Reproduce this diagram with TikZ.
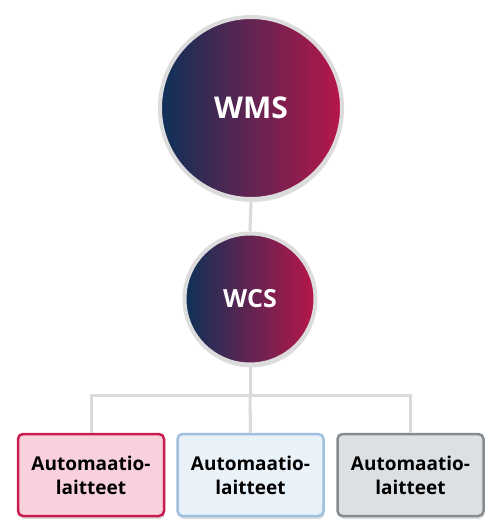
\documentclass[tikz,border=0pt]{standalone}
\usepackage{fontspec}
\setmainfont{Open Sans}
\usetikzlibrary{shadows}
\definecolor{navy}{HTML}{0D3158}
\definecolor{crimson}{HTML}{B8164A}
\definecolor{ringgray}{HTML}{DCDCDC}
\definecolor{linkgray}{HTML}{DADADA}
\definecolor{pinkfill}{HTML}{F9D1DC}
\definecolor{pinkline}{HTML}{C81D4E}
\definecolor{bluefill}{HTML}{E9F1F9}
\definecolor{blueline}{HTML}{9EBFDE}
\definecolor{grayfill}{HTML}{DDE0E3}
\definecolor{grayline}{HTML}{858B90}
\begin{document}
\begin{tikzpicture}[x=1pt,y=-1pt,
    sys/.style={circle,draw=ringgray,line width=4pt,left color=navy,right color=crimson,
      text=white,font=\bfseries,
      drop shadow={opacity=0.25,shadow xshift=1pt,shadow yshift=-3pt}},
    device/.style={rounded corners=5pt,line width=2.5pt,minimum width=146pt,minimum height=82pt,
      align=center,font=\bfseries\fontsize{19}{24}\selectfont,
      drop shadow={opacity=0.25,shadow xshift=1pt,shadow yshift=-3pt}},
    link/.style={draw=linkgray,line width=3pt}]
  \useasboundingbox (0,0) rectangle (500,530);
  \coordinate (bus) at (250,395);
  \node[sys,minimum size=182pt,font=\bfseries\fontsize{30}{36}\selectfont] (wms) at (251,108) {WMS};
  \node[sys,minimum size=131pt,font=\bfseries\fontsize{25}{30}\selectfont] (wcs) at (250,299) {WCS};
  \node[device,fill=pinkfill,draw=pinkline] (dev1) at (91,475) {Automaatio-\\laitteet};
  \node[device,fill=bluefill,draw=blueline] (dev2) at (250.5,475) {Automaatio-\\laitteet};
  \node[device,fill=grayfill,draw=grayline] (dev3) at (410.5,475) {Automaatio-\\laitteet};
  % connectors
  \draw[link] (wms.south) -- (wcs.north);
  \draw[link] (wcs.south) -- (bus);
  \draw[link] (dev1.north) |- (bus) -| (dev3.north);
  \draw[link] (bus) -- (dev2.north);
\end{tikzpicture}
\end{document}
